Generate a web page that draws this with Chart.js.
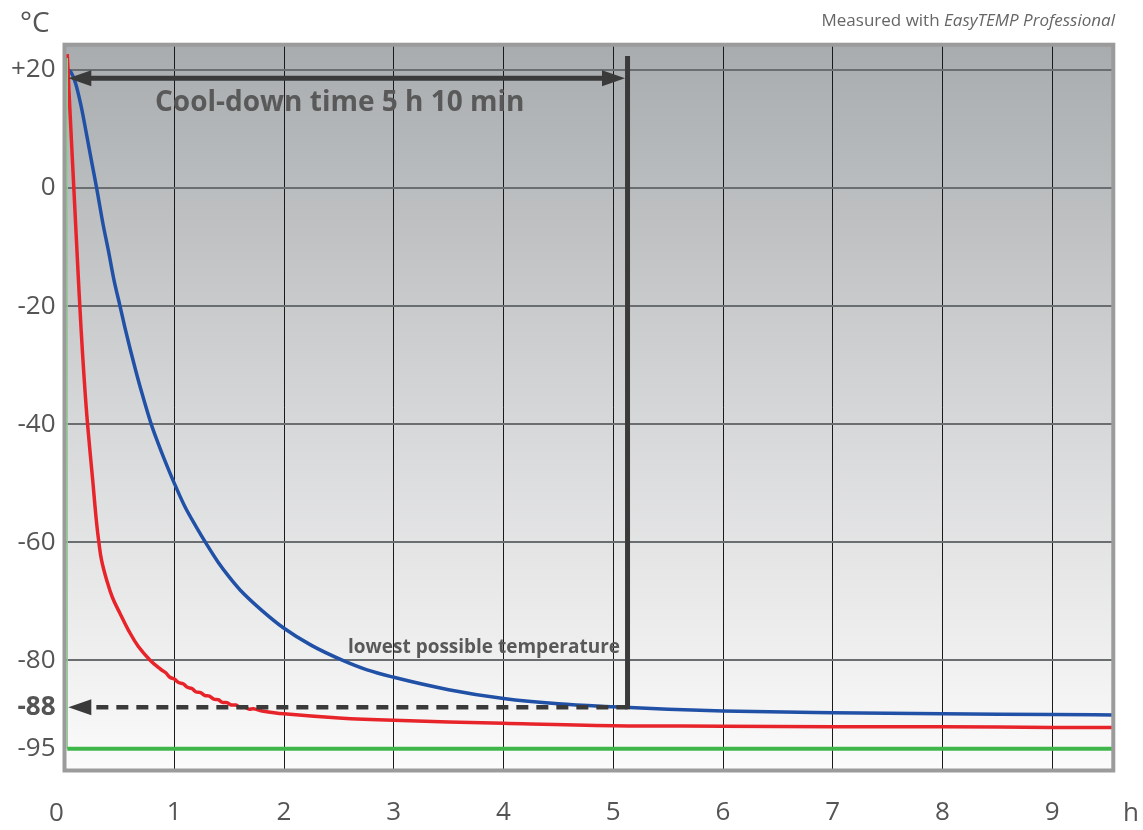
<!DOCTYPE html>
<html>
<head>
<meta charset="utf-8">
<script src="https://cdn.jsdelivr.net/npm/chart.js@4"></script>
<style>
  html, body { margin: 0; padding: 0; background: #fff; }
  canvas { display: block; }
</style>
</head>
<body>
<canvas id="cooldown" width="1143" height="830"></canvas>
<script>
// tick labels
const xTicks = [0, 1, 2, 3, 4, 5, 6, 7, 8, 9];
const yTicks = [-95, -88, -80, -60, -40, -20, 0, 20];

// red curve
const redTime = [0.025, 0.05, 0.085, 0.12, 0.15, 0.18, 0.21, 0.257, 0.29, 0.313, 0.338, 0.384, 0.435, 0.506,
  0.582, 0.673, 0.78, 0.88,
  0.92, 0.96, 1.00, 1.04, 1.08, 1.12, 1.16, 1.20, 1.24, 1.28, 1.32, 1.36, 1.40, 1.44, 1.48,
  1.52, 1.56, 1.60, 1.64, 1.68, 1.72, 1.80, 2.0, 2.5, 3.0, 4.0, 5.0, 6.0, 7.0, 8.0, 9.0, 9.556];
const redTemp = [22.7, 13, 0, -13, -23.5, -32.5, -40, -49.5, -56.3, -60, -63.1, -66.4, -69.3, -72.1,
  -74.9, -77.7, -80, -81.6,
  -82.1, -82.9, -83.2, -83.8, -84.0, -84.6, -84.8, -85.4, -85.5, -86.0, -86.1, -86.6, -86.7, -87.15, -87.2,
  -87.6, -87.6, -88.0, -87.95, -88.3, -88.25, -88.6, -89.1, -89.8, -90.2, -90.7, -91.1, -91.2, -91.3, -91.3, -91.4, -91.4];

// blue curve
const blueTime = [0.025, 0.06, 0.10, 0.15, 0.20, 0.25, 0.293, 0.35, 0.40, 0.45, 0.506, 0.55, 0.60, 0.65,
  0.70, 0.79, 0.85, 0.90, 1.0, 1.1, 1.2, 1.3, 1.4, 1.5, 1.6, 1.8, 2.0, 2.25, 2.53, 2.75, 3.0,
  3.5, 4.0, 4.5, 5.0, 5.5, 6.0, 7.0, 8.0, 9.0, 9.556];
const blueTemp = [20.1, 19.6, 17.8, 14.0, 9.2, 4.2, 0, -6.0, -10.6, -15.5, -20, -23.6, -27.4, -31.0,
  -34.4, -40, -43.1, -45.5, -50, -54.1, -57.4, -60.5, -63.4, -65.9, -68.1, -71.6, -74.6, -77.5, -80.0, -81.6, -82.9,
  -85.0, -86.5, -87.4, -87.9, -88.3, -88.6, -88.9, -89.1, -89.2, -89.3];

// green set line
const greenTime = [0.025, 0.025, 9.556];
const greenTemp = [22, -95, -95];

// annotations
const coolDownHours = 5.13;
const arrowStartHours = 0.035;
const arrowEndHours = 5.107;
const arrowTemp = 18.6;
const markerTopTemp = 22.4;
const lowestTemp = -88;

const pts = (t, v) => t.map((x, i) => ({ x: x, y: v[i] }));

function arrowHead(ctx, tipX, y, dir, len, half) {
  ctx.beginPath();
  ctx.moveTo(tipX, y);
  ctx.lineTo(tipX + dir * len, y - half);
  ctx.lineTo(tipX + dir * len, y + half);
  ctx.closePath();
  ctx.fill();
}

function condensed(ctx, text, x, y, targetW) {
  const w = ctx.measureText(text).width;
  const s = Math.min(1, targetW / w);
  ctx.save();
  ctx.translate(x, y);
  ctx.scale(s, 1);
  ctx.fillText(text, 0, 0);
  ctx.restore();
}

const overlay = {
  id: 'overlay',
  beforeDraw(chart) {
    const { ctx, chartArea: a } = chart;
    const g = ctx.createLinearGradient(0, a.top, 0, a.bottom);
    g.addColorStop(0, '#a8acae');
    g.addColorStop(0.5, '#d5d6d7');
    g.addColorStop(1, '#fbfbfb');
    ctx.save();
    ctx.fillStyle = g;
    ctx.fillRect(a.left, a.top, a.right - a.left, a.bottom - a.top);
    ctx.restore();
  },
  afterDatasetsDraw(chart) {
    const { ctx, scales: { x, y } } = chart;
    ctx.save();
    ctx.fillStyle = '#3a3a3a';
    ctx.strokeStyle = '#3a3a3a';

    // cool-down arrow
    const ay = y.getPixelForValue(arrowTemp);
    const x0 = x.getPixelForValue(arrowStartHours);
    const x1 = x.getPixelForValue(arrowEndHours);
    ctx.lineWidth = 5;
    ctx.beginPath();
    ctx.moveTo(x0 + 10, ay);
    ctx.lineTo(x1 - 10, ay);
    ctx.stroke();
    arrowHead(ctx, x0, ay, 1, 23, 8);
    arrowHead(ctx, x1, ay, -1, 23, 8);

    // vertical marker
    const vx = x.getPixelForValue(coolDownHours);
    const ly = y.getPixelForValue(lowestTemp);
    ctx.beginPath();
    ctx.moveTo(vx, y.getPixelForValue(markerTopTemp));
    ctx.lineTo(vx, ly + 2);
    ctx.stroke();

    // dashed lowest temperature
    ctx.lineWidth = 4.5;
    ctx.setLineDash([12, 8]);
    ctx.beginPath();
    ctx.moveTo(x0 + 28, ly);
    ctx.lineTo(vx, ly);
    ctx.stroke();
    ctx.setLineDash([]);
    arrowHead(ctx, x0, ly, 1, 23, 8);

    // texts
    ctx.fillStyle = '#595959';
    ctx.textBaseline = 'alphabetic';
    ctx.textAlign = 'left';
    ctx.font = 'bold 28px "Open Sans"';
    condensed(ctx, 'Cool-down time 5 h 10 min', 155, 110.5, 382);
    ctx.font = 'bold 19px "Open Sans"';
    condensed(ctx, 'lowest possible temperature', 348, 653, 272);
    ctx.restore();
  },
  afterDraw(chart) {
    const { ctx, chartArea: a, scales: { x } } = chart;
    ctx.save();
    ctx.strokeStyle = '#9b9b9b';
    ctx.lineWidth = 4;
    ctx.strokeRect(a.left, a.top, a.right - a.left, a.bottom - a.top);

    ctx.fillStyle = '#555';
    ctx.textBaseline = 'alphabetic';
    ctx.textAlign = 'left';
    ctx.font = '28px "Open Sans"';
    ctx.fillText('°C', 20, 32);
    ctx.font = '26px "Open Sans"';
    ctx.textAlign = 'center';
    ctx.fillText('h', 1131, 821);
    // the zero label sits a little left of its tick
    ctx.fillText(String(xTicks[0]), x.getPixelForValue(xTicks[0]) - 8, 821);

    ctx.fillStyle = '#666';
    ctx.textAlign = 'right';
    ctx.font = 'italic 17px "Open Sans"';
    const it = 'EasyTEMP Professional';
    const iw = ctx.measureText(it).width;
    ctx.fillText(it, 1115, 26);
    ctx.font = '17px "Open Sans"';
    ctx.fillText('Measured with ', 1115 - iw, 26);
    ctx.restore();
  }
};

new Chart(document.getElementById('cooldown'), {
  type: 'line',
  data: {
    datasets: [
      {
        data: pts(greenTime, greenTemp),
        borderColor: '#3fb64a',
        borderWidth: 4,
        segment: { borderWidth: c => c.p0DataIndex === 0 ? 1 : 4, borderColor: c => c.p0DataIndex === 0 ? '#8fd08f' : '#3fb64a' }
      },
      {
        data: pts(redTime, redTemp),
        borderColor: '#e8242b',
        borderWidth: 3.5,
        tension: 0.4
      },
      {
        data: pts(blueTime, blueTemp),
        borderColor: '#2151a6',
        borderWidth: 3.5,
        cubicInterpolationMode: 'monotone'
      }
    ]
  },
  options: {
    responsive: false,
    animation: false,
    layout: { padding: { top: 44.7, right: 29.7, left: 0, bottom: 0 } },
    elements: { point: { radius: 0 } },
    plugins: {
      legend: { display: false },
      tooltip: { enabled: false }
    },
    scales: {
      x: {
        type: 'linear',
        min: 0,
        max: 9.556,
        afterBuildTicks: s => { s.ticks = xTicks.map(v => ({ value: v })); },
        afterFit: s => { s.height = 59.5; },
        border: { display: false },
        grid: {
          color: c => c.tick && c.tick.value === 0 ? 'rgba(0,0,0,0)' : '#1a1a1a',
          lineWidth: 1,
          drawTicks: false
        },
        ticks: {
          padding: 26,
          autoSkip: false,
          maxRotation: 0,
          color: '#555',
          callback: v => v === 0 ? '' : String(v),
          font: { family: 'Open Sans', size: 26 }
        }
      },
      y: {
        min: -98.7,
        max: 24.3,
        afterBuildTicks: s => { s.ticks = yTicks.map(v => ({ value: v })); },
        afterFit: s => { s.width = 64.5; },
        border: { display: false },
        grid: {
          color: c => c.tick && (c.tick.value === -88 || c.tick.value === -95) ? 'rgba(0,0,0,0)' : '#6b6e70',
          lineWidth: 2,
          drawTicks: false
        },
        ticks: {
          padding: 9,
          autoSkip: false,
          color: '#555',
          callback: v => v > 0 ? '+' + v : '' + v,
          font: c => ({
            family: 'Open Sans',
            size: 26,
            weight: c.tick && c.tick.value === -88 ? 'bold' : 'normal'
          })
        }
      }
    }
  },
  plugins: [overlay]
});
</script>
</body>
</html>
